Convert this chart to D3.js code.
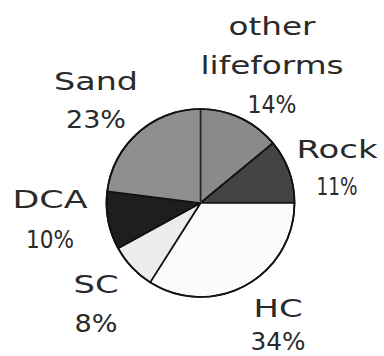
<!DOCTYPE html>
<html><head><meta charset="utf-8">
<script src="https://cdn.jsdelivr.net/npm/d3@7"></script>
<style>html,body{margin:0;padding:0;background:#fff;}svg{display:block;}</style>
</head><body><svg id="c" width="384" height="356"></svg>
<script>
const categories = ["other lifeforms", "Rock", "HC", "SC", "DCA", "Sand"];
const values = [14, 11, 34, 8, 10, 23];
const labelLines = [["other", "lifeforms", "14%"], ["Rock", "11%"], ["HC", "34%"], ["SC", "8%"], ["DCA", "10%"], ["Sand", "23%"]];
const fills = ["#8a8a8a", "#444444", "#fbfbfb", "#ececec", "#1e1e1e", "#8f8f8f"];

// label layout (center x, first baseline y, line gap, widths per line)
const layout = [
  {x: 272, y: 35, gap: 39, w: [87, 143, 49]},
  {x: 337, y: 158, gap: 37, w: [81, 41]},
  {x: 278, y: 317, gap: 33, w: [49, 55]},
  {x: 96, y: 293, gap: 39, w: [45, 43]},
  {x: 50, y: 208, gap: 40, w: [75, 48]},
  {x: 96, y: 90, gap: 38, w: [84, 60]}
];

const svg = d3.select("#c");
const cx = 200.5, cy = 203, R = 94;
const g = svg.append("g").attr("transform", `translate(${cx},${cy})`);
const pie = d3.pie().sort(null).value(d => d)(values);
const arc = d3.arc().innerRadius(0).outerRadius(R);
g.selectAll("path").data(pie).join("path")
  .attr("d", arc)
  .attr("fill", (d, i) => fills[i])
  .attr("stroke", "#111")
  .attr("stroke-width", 1.7)
  .attr("stroke-linejoin", "round");
// thinner line at the top (between Sand and other lifeforms)
g.append("line").attr("x1", 0).attr("y1", 0).attr("x2", 0).attr("y2", -R)
  .attr("stroke", "#8a8a8a").attr("stroke-width", 1.7);
g.append("line").attr("x1", 0).attr("y1", 0).attr("x2", 0).attr("y2", -R)
  .attr("stroke", "#222").attr("stroke-width", 1);
g.append("circle").attr("r", R).attr("fill", "none").attr("stroke", "#111").attr("stroke-width", 1.7);

categories.forEach((c, i) => {
  const L = layout[i];
  labelLines[i].forEach((t, j) => {
    svg.append("text")
      .attr("x", L.x).attr("y", L.y + j * L.gap)
      .attr("text-anchor", "middle")
      .attr("font-family", "DejaVu Sans, sans-serif")
      .attr("font-size", 25)
      .attr("fill", "#2a2a2a")
      .attr("textLength", L.w[j])
      .attr("lengthAdjust", "spacingAndGlyphs")
      .text(t);
  });
});
</script></body></html>
